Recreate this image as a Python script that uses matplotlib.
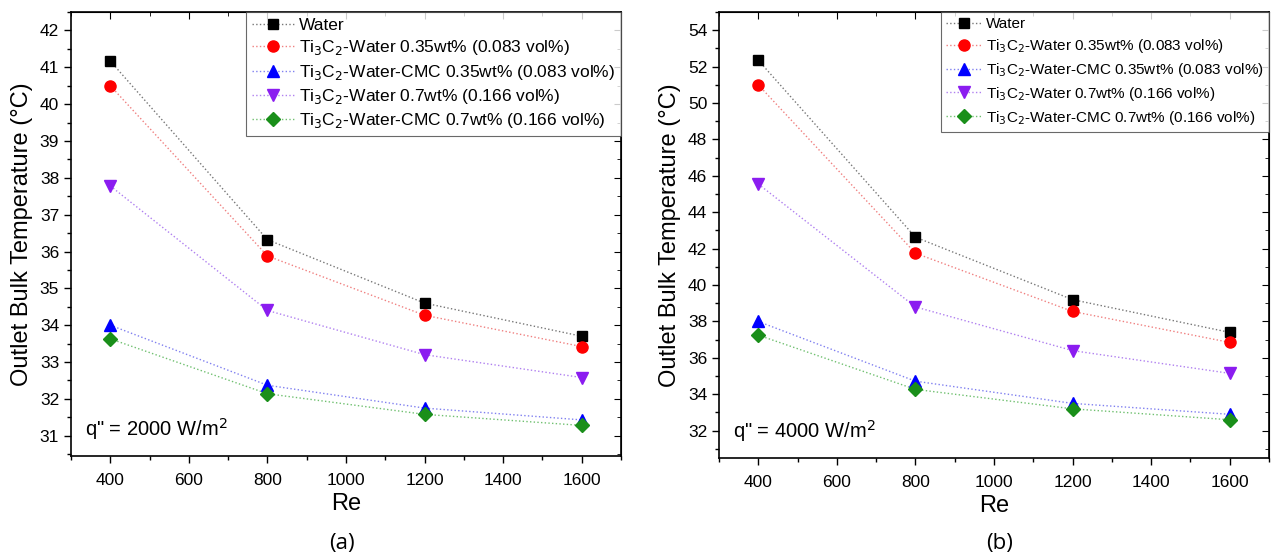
import matplotlib.pyplot as plt
from matplotlib.ticker import MultipleLocator

plt.rcParams['font.family'] = ['Liberation Sans', 'DejaVu Sans']

# Dados
re = [400, 800, 1200, 1600]

labels = ['Water',
          r'Ti$_3$C$_2$-Water 0.35wt% (0.083 vol%)',
          r'Ti$_3$C$_2$-Water-CMC 0.35wt% (0.083 vol%)',
          r'Ti$_3$C$_2$-Water 0.7wt% (0.166 vol%)',
          r'Ti$_3$C$_2$-Water-CMC 0.7wt% (0.166 vol%)']

# q" = 2000 W/m2
t_2000_water = [41.17, 36.32, 34.60, 33.70]
t_2000_w035 = [40.50, 35.88, 34.27, 33.42]
t_2000_cmc035 = [34.00, 32.37, 31.75, 31.43]
t_2000_w07 = [37.78, 34.40, 33.20, 32.58]
t_2000_cmc07 = [33.63, 32.14, 31.58, 31.28]

# q" = 4000 W/m2
t_4000_water = [52.35, 42.63, 39.20, 37.40]
t_4000_w035 = [51.00, 41.75, 38.55, 36.85]
t_4000_cmc035 = [38.00, 34.72, 33.50, 32.90]
t_4000_w07 = [45.55, 38.80, 36.40, 35.15]
t_4000_cmc07 = [37.25, 34.27, 33.20, 32.60]

markers = ['s', 'o', '^', 'v', 'D']
msizes = [7, 8, 8, 8, 7]
colors = ['black', 'red', 'blue', '#8b1cf0', '#1a8f1a']
line_colors = ['#777777', '#f08080', '#8080f0', '#b080f0', '#70c070']

fig = plt.figure(figsize=(12.72, 5.56), dpi=100)
ax1 = fig.add_axes([71/1272, 1 - 456/556, 550/1272, 444/556])
ax2 = fig.add_axes([719/1272, 1 - 458/556, 550/1272, 446/556])


def draw(ax, series, ylim, ymaj, ymin, qtext, legsize, legspace, legw):
    for i, ys in enumerate(series):
        ax.plot(re, ys, linestyle=':', linewidth=1.0, color=line_colors[i],
                marker=markers[i], markersize=msizes[i],
                markerfacecolor=colors[i], markeredgecolor=colors[i],
                label=labels[i])
    ax.set_xlim(300, 1700)
    ax.set_ylim(*ylim)
    ax.xaxis.set_major_locator(MultipleLocator(200))
    ax.xaxis.set_minor_locator(MultipleLocator(100))
    ax.yaxis.set_major_locator(MultipleLocator(ymaj))
    ax.yaxis.set_minor_locator(MultipleLocator(ymin))
    ax.tick_params(which='major', direction='out', length=5, width=1, labelsize=12.5)
    ax.tick_params(axis='x', which='major', pad=7)
    ax.tick_params(which='minor', direction='out', length=3, width=1)
    for s in ax.spines.values():
        s.set_linewidth(1.2)
    top = ax.secondary_xaxis('top')
    top.xaxis.set_major_locator(MultipleLocator(200))
    top.xaxis.set_minor_locator(MultipleLocator(100))
    top.tick_params(which='both', direction='in', labeltop=False)
    top.tick_params(which='major', length=5)
    top.tick_params(which='minor', length=3)
    right = ax.secondary_yaxis('right')
    right.yaxis.set_major_locator(MultipleLocator(ymaj))
    right.yaxis.set_minor_locator(MultipleLocator(ymin))
    right.tick_params(which='both', direction='in', labelright=False)
    right.tick_params(which='major', length=5)
    right.tick_params(which='minor', length=3)
    ax.set_xlabel('Re', fontsize=17, labelpad=4)
    ax.set_ylabel('Outlet Bulk Temperature (°C)', fontsize=17, labelpad=5)
    ax.text(0.025, 0.045, qtext, transform=ax.transAxes, fontsize=14.5)
    leg = ax.legend(loc='upper right', fontsize=legsize, frameon=True, fancybox=False,
                    edgecolor='#444444', borderpad=0.35, labelspacing=legspace,
                    handlelength=legw, handletextpad=0.3, borderaxespad=0.0)
    leg.get_frame().set_linewidth(0.8)


draw(ax1, [t_2000_water, t_2000_w035, t_2000_cmc035, t_2000_w07, t_2000_cmc07],
     (30.45, 42.5), 1, 0.5, 'q" = 2000 W/m$^2$', 12.5, 0.3, 2.4)
draw(ax2, [t_4000_water, t_4000_w035, t_4000_cmc035, t_4000_w07, t_4000_cmc07],
     (30.5, 55), 2, 1, 'q" = 4000 W/m$^2$', 11, 0.38, 2.3)

fig.text(342/1272, 1 - 543/556, '(a)', fontsize=16, ha='center', va='center',
         family=['Open Sans', 'DejaVu Sans'])
fig.text(1000/1272, 1 - 543/556, '(b)', fontsize=16, ha='center', va='center',
         family=['Open Sans', 'DejaVu Sans'])

fig.savefig('out.png', dpi=100)
